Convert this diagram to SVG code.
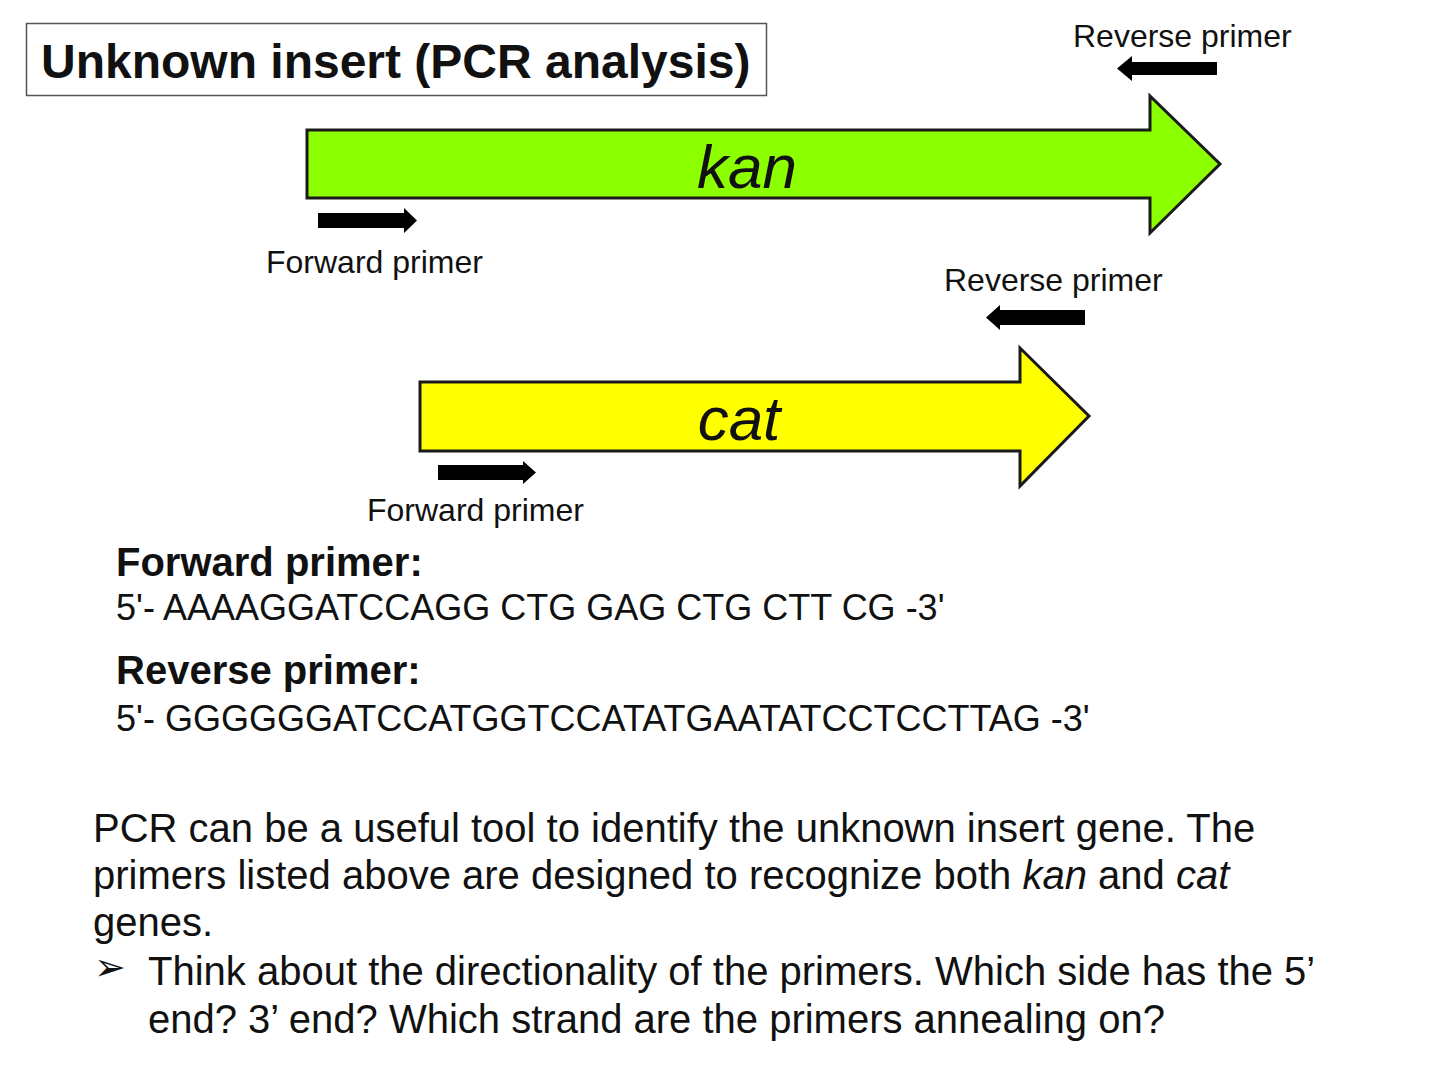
<svg xmlns="http://www.w3.org/2000/svg" width="1456" height="1088" viewBox="0 0 1456 1088">
<style>
  text { font-family: "Liberation Sans", Arial, sans-serif; fill: #111; }
  .lbl { font-size: 32px; }
  .gene { font-size: 62px; font-style: italic; text-anchor: middle; }
  .hd { font-size: 40px; font-weight: bold; }
  .seq { font-size: 36px; }
  .para { font-size: 40px; }
  .gbody { stroke: #1a1a1a; stroke-width: 3; stroke-linejoin: miter; }
  .primer { fill: #000; }
</style>
<rect width="1456" height="1088" fill="#fff"/>
<g id="title">
  <rect x="26.5" y="23.5" width="740" height="72" fill="#fff" stroke="#555" stroke-width="1.5"/>
  <text x="41" y="78" style="font-size:48px;font-weight:bold">Unknown insert (PCR analysis)</text>
</g>
<g id="kan">
  <path class="gbody" fill="#8cff00" d="M307,130 L1150,130 L1150,96 L1220,164 L1150,233 L1150,198 L307,198 Z"/>
  <text class="gene" x="747" y="188">kan</text>
</g>
<g id="kan-forward-primer">
  <path class="primer" d="M318,213 L404,213 L404,208 L417,220.5 L404,233 L404,228 L318,228 Z"/>
  <text class="lbl" x="266" y="273">Forward primer</text>
</g>
<g id="kan-reverse-primer">
  <path class="primer" d="M1217,62 L1132,62 L1132,56 L1117,68.5 L1132,81 L1132,75 L1217,75 Z"/>
  <text class="lbl" x="1073" y="47">Reverse primer</text>
</g>
<g id="cat">
  <path class="gbody" fill="#ffff00" d="M420,382 L1020,382 L1020,348 L1089,416 L1020,486 L1020,451 L420,451 Z"/>
  <text class="gene" x="739" y="440">cat</text>
</g>
<g id="cat-forward-primer">
  <path class="primer" d="M438,465 L523,465 L523,461 L536,472.5 L523,484 L523,480 L438,480 Z"/>
  <text class="lbl" x="367" y="521">Forward primer</text>
</g>
<g id="cat-reverse-primer">
  <path class="primer" d="M1085,310 L1000,310 L1000,305 L986,317.5 L1000,330 L1000,325 L1085,325 Z"/>
  <text class="lbl" x="944" y="291">Reverse primer</text>
</g>
<g id="connectors"></g>
<g id="sequences">
  <text class="hd" x="116" y="576">Forward primer:</text>
  <text class="seq" x="116" y="620">5'- AAAAGGATCCAGG CTG GAG CTG CTT CG -3'</text>
  <text class="hd" x="116" y="684">Reverse primer:</text>
  <text class="seq" x="116" y="731">5'- GGGGGGATCCATGGTCCATATGAATATCCTCCTTAG -3'</text>
</g>
<g id="paragraph">
  <text class="para" x="93" y="842">PCR can be a useful tool to identify the unknown insert gene. The</text>
  <text class="para" x="93" y="889">primers listed above are designed to recognize both <tspan font-style="italic">kan</tspan> and <tspan font-style="italic">cat</tspan></text>
  <text class="para" x="93" y="936">genes.</text>
  <text x="94" y="980" style="font-family:'DejaVu Sans',sans-serif;font-size:38px">➢</text>
  <text class="para" x="148" y="985">Think about the directionality of the primers. Which side has the 5’</text>
  <text class="para" x="148" y="1033">end? 3’ end? Which strand are the primers annealing on?</text>
</g>
</svg>
